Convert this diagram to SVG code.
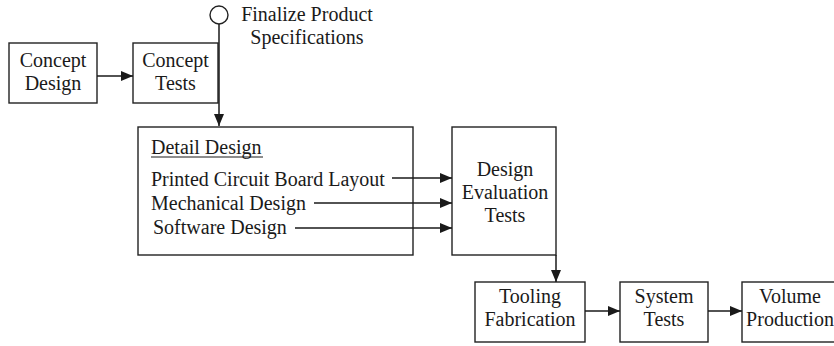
<svg xmlns="http://www.w3.org/2000/svg" width="834" height="346" viewBox="0 0 834 346">
<style>
.box{fill:#fff;stroke:#222;stroke-width:1.4}
.t{font-family:"Liberation Serif","Times New Roman",serif;font-size:20px;fill:#1a1a1a}
.m{text-anchor:middle}
.c{fill:none;stroke:#1a1a1a;stroke-width:1.5}
</style>
<defs>
<marker id="ah" markerUnits="userSpaceOnUse" markerWidth="12" markerHeight="12" viewBox="0 0 12 12" refX="12" refY="6" orient="auto">
<path d="M0,1 L12,6 L0,11 Z" fill="#1a1a1a"/>
</marker>
</defs>
<rect width="834" height="346" fill="#fff"/>
<g id="concept-design">
<rect class="box" x="9" y="43" width="88" height="60"/>
<text class="t m" x="53" y="67">Concept</text>
<text class="t m" x="53" y="90">Design</text>
</g>
<g id="concept-tests">
<rect class="box" x="133" y="43" width="85" height="60"/>
<text class="t m" x="175.5" y="67">Concept</text>
<text class="t m" x="175.5" y="90">Tests</text>
</g>
<g id="detail-design">
<rect class="box" x="138" y="127" width="275" height="128"/>
<text class="t" x="151" y="154">Detail Design</text>
<line x1="151" y1="157" x2="263" y2="157" stroke="#1a1a1a" stroke-width="1"/>
<text class="t" x="151" y="186">Printed Circuit Board Layout</text>
<text class="t" x="151" y="210">Mechanical Design</text>
<text class="t" x="153" y="234">Software Design</text>
</g>
<g id="design-evaluation-tests">
<rect class="box" x="452" y="127" width="104" height="128"/>
<text class="t m" x="505" y="176">Design</text>
<text class="t m" x="505" y="199">Evaluation</text>
<text class="t m" x="505" y="222">Tests</text>
</g>
<g id="tooling-fabrication">
<rect class="box" x="475" y="282" width="110" height="60"/>
<text class="t m" x="530" y="303">Tooling</text>
<text class="t m" x="530" y="326">Fabrication</text>
</g>
<g id="system-tests">
<rect class="box" x="620" y="282" width="88" height="60"/>
<text class="t m" x="664" y="303">System</text>
<text class="t m" x="664" y="326">Tests</text>
</g>
<g id="volume-production">
<rect class="box" x="742" y="282" width="98" height="60"/>
<text class="t m" x="790" y="303">Volume</text>
<text class="t m" x="790" y="326">Production</text>
</g>
<g id="connectors">
<path class="c" d="M97,76 H133" marker-end="url(#ah)"/>
<path class="c" d="M219,24 V126" marker-end="url(#ah)"/>
<path class="c" d="M392,178 H452" marker-end="url(#ah)"/>
<path class="c" d="M314,203 H452" marker-end="url(#ah)"/>
<path class="c" d="M295,228 H452" marker-end="url(#ah)"/>
<path class="c" d="M556,255 V282" marker-end="url(#ah)"/>
<path class="c" d="M585,311 H620" marker-end="url(#ah)"/>
<path class="c" d="M708,311 H742" marker-end="url(#ah)"/>
</g>
<g id="milestone">
<circle cx="219" cy="15" r="9" fill="#fff" stroke="#222" stroke-width="1.4"/>
<text class="t m" x="307" y="21">Finalize Product</text>
<text class="t m" x="307" y="44">Specifications</text>
</g>
</svg>
